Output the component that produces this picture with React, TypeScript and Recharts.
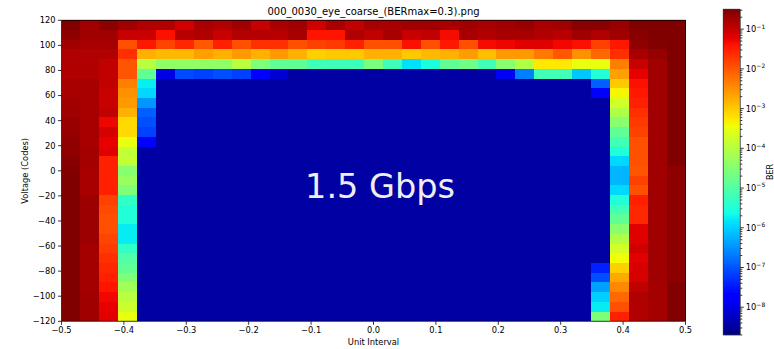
import { ScatterChart, Scatter, XAxis, YAxis, ReferenceArea } from 'recharts';

const FONT = '"DejaVu Sans", sans-serif';

// log10(BER) colour limits of the colour bar
const LOG_MIN = -8.7;
const LOG_MAX = -0.5;

const X_TICKS = [-0.5, -0.4, -0.3, -0.2, -0.1, 0, 0.1, 0.2, 0.3, 0.4, 0.5];
const Y_TICKS = [120, 100, 80, 60, 40, 20, 0, -20, -40, -60, -80, -100, -120];
const BER_MAJOR = [1e-8, 1e-7, 1e-6, 1e-5, 1e-4, 1e-3, 1e-2, 1e-1];

const N_COLS = 33;
const N_ROWS = 31;
const FLOOR = -8.45; // open-eye cells

// log10(BER) per column, top row (+120) first
const col00 = [-0.5, -0.6, -0.73, -0.84, -0.84, -0.84, -0.79, -0.79, -0.73, -0.73, -0.67, -0.67, -0.62, -0.62, -0.56, -0.52, -0.5, -0.5, -0.5, -0.5, -0.5, -0.5, -0.5, -0.5, -0.5, -0.5, -0.5, -0.5, -0.5, -0.5, -0.5];
const col01 = [-0.73, -0.73, -0.79, -0.84, -0.84, -0.84, -0.79, -0.79, -0.79, -0.79, -0.79, -0.79, -0.79, -0.76, -0.76, -0.79, -0.79, -0.79, -0.7, -0.7, -0.7, -0.7, -0.7, -0.76, -0.76, -0.76, -0.76, -0.76, -0.73, -0.73, -0.73];
const col02 = [-0.58, -0.73, -0.79, -0.84, -0.96, -0.96, -0.96, -1.01, -1.01, -0.96, -1.28, -1.12, -1.24, -1.18, -1.52, -1.52, -1.52, -1.52, -1.8, -1.86, -1.93, -1.93, -1.83, -1.76, -1.65, -1.58, -1.52, -1.41, -1.3, -1.24, -1.18];
const col03 = [-0.73, -1.01, -1.93, -1.65, -1.98, -1.98, -2.34, -2.49, -2.57, -2.77, -3.12, -3.12, -3.52, -3.9, -3.9, -4.47, -4.31, -4.56, -5.35, -5.51, -5.51, -5.78, -5.78, -5.35, -5.03, -4.87, -4.56, -4.24, -4.0, -3.82, -3.52];
const col04 = [-0.84, -1.01, -1.44, -2.77, -4.0, -4.87, -5.75, -5.94, -6.45, -6.9, -7.04, -7.16, -7.72, -8.45, -8.45, -8.45, -8.45, -8.45, -8.45, -8.45, -8.45, -8.45, -8.45, -8.45, -8.45, -8.45, -8.45, -8.45, -8.45, -8.45, -8.45];

const col28 = [-0.56, -0.84, -1.8, -2.14, -3.52, -5.51, -6.9, -7.72, -8.45, -8.45, -8.45, -8.45, -8.45, -8.45, -8.45, -8.45, -8.45, -8.45, -8.45, -8.45, -8.45, -8.45, -8.45, -8.45, -8.45, -7.42, -7.04, -6.39, -6.0, -5.78, -4.56];
const col29 = [-0.67, -0.73, -1.44, -1.65, -2.34, -2.63, -2.98, -3.37, -3.75, -4.08, -4.47, -4.87, -5.19, -5.51, -5.94, -6.2, -6.2, -5.94, -5.51, -5.19, -4.87, -4.47, -4.08, -3.75, -3.44, -3.04, -2.7, -2.42, -2.14, -1.93, -1.52];
const col30 = [-0.5, -0.56, -0.62, -0.79, -1.01, -1.24, -1.38, -1.44, -1.52, -1.65, -1.73, -1.8, -1.93, -1.93, -1.93, -1.98, -1.8, -1.93, -1.52, -1.58, -1.58, -1.18, -1.18, -1.07, -1.18, -1.12, -1.12, -0.96, -0.84, -0.84, -0.84];
const col31 = [-0.5, -0.5, -0.52, -0.66, -0.73, -0.73, -0.73, -0.73, -0.73, -0.73, -0.73, -0.73, -0.73, -0.73, -0.73, -0.73, -0.73, -0.73, -0.73, -0.73, -0.73, -0.73, -0.73, -0.73, -0.73, -0.73, -0.73, -0.76, -0.76, -0.76, -0.76];
const col32 = [-0.5, -0.5, -0.5, -0.5, -0.5, -0.5, -0.5, -0.5, -0.5, -0.5, -0.5, -0.5, -0.5, -0.5, -0.5, -0.6, -0.6, -0.6, -0.6, -0.6, -0.6, -0.6, -0.6, -0.6, -0.6, -0.6, -0.6, -0.52, -0.52, -0.52, -0.52];

// log10(BER) for the top six rows, columns 5..27
const row00 = [-0.84, -1.07, -0.79, -0.84, -0.73, -1.01, -0.79, -0.73, -1.07, -0.79, -0.96, -0.79, -0.79, -0.73, -0.73, -0.79, -0.73, -0.79, -0.73, -0.67, -0.79, -0.73, -0.56];
const row01 = [-1.38, -0.9, -0.84, -1.01, -0.87, -0.87, -0.9, -0.79, -1.41, -1.41, -0.84, -0.96, -0.79, -1.01, -0.96, -1.33, -0.79, -0.84, -0.79, -0.79, -0.84, -0.9, -0.73];
const row02 = [-1.83, -1.58, -2.0, -1.52, -1.93, -1.65, -1.65, -1.93, -1.8, -1.73, -1.52, -1.93, -1.93, -1.38, -1.93, -1.44, -1.93, -1.33, -1.28, -1.18, -1.18, -1.3, -1.38];
const row03 = [-2.84, -2.84, -2.63, -2.77, -2.57, -2.77, -2.57, -2.77, -3.04, -2.98, -2.98, -2.77, -2.77, -2.98, -2.84, -2.77, -2.6, -2.9, -2.57, -2.57, -2.28, -2.0, -2.49];
const row04 = [-4.39, -4.39, -4.39, -4.39, -4.0, -4.56, -4.87, -4.87, -5.19, -5.22, -5.22, -4.63, -5.22, -5.87, -5.55, -4.87, -4.71, -5.19, -4.47, -4.08, -3.26, -3.26, -3.52];
const row05 = [-7.98, -7.08, -7.16, -7.04, -7.16, -7.72, -8.1, -8.45, -8.45, -8.45, -8.45, -8.45, -8.45, -8.45, -8.45, -8.45, -8.45, -8.45, -7.89, -6.65, -5.19, -5.19, -6.07];

const leftCols = [col00, col01, col02, col03, col04];
const rightCols = [col28, col29, col30, col31, col32];
const topRows = [row00, row01, row02, row03, row04, row05];

function berAt(c: number, r: number) {
  if (c < 5) return leftCols[c][r];
  if (c >= 28) return rightCols[c - 28][r];
  if (r < 6) return topRows[r][c - 5];
  return FLOOR;
}

function lerp(pts: number[][], t: number) {
  for (let i = 1; i < pts.length; i++) {
    if (t <= pts[i][0]) {
      const [x0, y0] = pts[i - 1];
      const [x1, y1] = pts[i];
      return y0 + ((t - x0) / (x1 - x0)) * (y1 - y0);
    }
  }
  return pts[pts.length - 1][1];
}

// matplotlib "jet"
function jet(t: number) {
  t = Math.max(0, Math.min(1, t));
  const r = lerp([[0, 0], [0.35, 0], [0.66, 1], [0.89, 1], [1, 0.5]], t);
  const g = lerp([[0, 0], [0.125, 0], [0.375, 1], [0.64, 1], [0.91, 0], [1, 0]], t);
  const b = lerp([[0, 0.5], [0.11, 1], [0.34, 1], [0.65, 0], [1, 0]], t);
  return `rgb(${Math.round(r * 255)},${Math.round(g * 255)},${Math.round(b * 255)})`;
}

const berColor = (lg: number) => jet((lg - LOG_MIN) / (LOG_MAX - LOG_MIN));

const cells: { x: number; y: number; x1: number; x2: number; y1: number; y2: number; ber: number }[] = [];
for (let r = 0; r < N_ROWS; r++) {
  for (let c = 0; c < N_COLS; c++) {
    const x1 = -0.5 + c / N_COLS;
    const x2 = -0.5 + (c + 1) / N_COLS;
    const y1 = 120 - (r * 240) / N_ROWS;
    const y2 = 120 - ((r + 1) * 240) / N_ROWS;
    cells.push({ x: (x1 + x2) / 2, y: (y1 + y2) / 2, x1, x2, y1, y2, ber: berAt(c, r) });
  }
}

// colour bar: thin slices of the log range
const N_SLICES = 164;
const slices: { x: number; y: number; lo: number; hi: number; t: number }[] = [];
for (let i = 0; i < N_SLICES; i++) {
  const a = LOG_MIN + ((LOG_MAX - LOG_MIN) * i) / N_SLICES;
  const b = LOG_MIN + ((LOG_MAX - LOG_MIN) * (i + 1)) / N_SLICES;
  slices.push({ x: 0.5, y: Math.pow(10, (a + b) / 2), lo: Math.pow(10, a), hi: Math.pow(10, b), t: (i + 0.5) / N_SLICES });
}

const berTicks: number[] = [];
BER_MAJOR.concat([1e-9]).forEach((m) => {
  for (let k = 1; k < 10; k++) {
    const v = m * k;
    if (Math.log10(v) >= LOG_MIN && Math.log10(v) <= LOG_MAX) berTicks.push(v);
  }
});

const signed = (v: number, digits: number) =>
  (v < 0 ? '\u2212' : '') + Math.abs(v).toFixed(digits);

function BarTick({ x, y, payload }: any) {
  const lg = Math.log10(payload.value);
  const major = Math.abs(lg - Math.round(lg)) < 1e-6;
  return (
    <g>
      <line x1={x} x2={x + (major ? 3.5 : 2)} y1={y} y2={y} stroke="#000" strokeWidth={0.8} />
      {major && (
        <text x={x + 5.5} y={y + 3} fontSize={8.3} fontFamily={FONT} fill="#000">
          10
          <tspan dy={-3.6} fontSize={6}>
            {'\u2212' + Math.abs(Math.round(lg))}
          </tspan>
        </text>
      )}
    </g>
  );
}

export default function App() {
  return (
    <div style={{ position: 'absolute', left: 0, top: 0, width: 774, height: 349, background: '#fff' }}>
      <ScatterChart width={774} height={349} margin={{ top: 20.3, right: 88.5, bottom: 0, left: 0 }}>
        <XAxis
          type="number"
          dataKey="x"
          domain={[-0.5, 0.5]}
          ticks={X_TICKS}
          interval={0}
          height={27.7}
          axisLine={false}
          tickLine={{ stroke: '#000', strokeWidth: 0.8 }}
          tickSize={3.5}
          tickMargin={2.5}
          tick={{ fill: '#000', fontSize: 8.3, fontFamily: FONT }}
          tickFormatter={(v: number) => signed(v, 1)}
          allowDataOverflow
        />
        <YAxis
          type="number"
          dataKey="y"
          domain={[-120, 120]}
          ticks={Y_TICKS}
          interval={0}
          width={61.5}
          axisLine={false}
          tickLine={{ stroke: '#000', strokeWidth: 0.8 }}
          tickSize={3.5}
          tickMargin={2.5}
          tick={{ fill: '#000', fontSize: 8.3, fontFamily: FONT }}
          tickFormatter={(v: number) => signed(v, 0)}
          allowDataOverflow
        />
        {cells.map((cell, i) => (
          <ReferenceArea
            key={i}
            x1={cell.x1}
            x2={cell.x2}
            y1={cell.y1}
            y2={cell.y2}
            fill={berColor(cell.ber)}
            fillOpacity={1}
            stroke="none"
            shapeRendering="crispEdges"
            ifOverflow="visible"
          />
        ))}
        <Scatter data={cells} shape={() => <g />} isAnimationActive={false} />
        <ReferenceArea x1={-0.5} x2={0.5} y1={-120} y2={120} fill="none" fillOpacity={0} stroke="#000" strokeWidth={0.8} ifOverflow="visible" />
      </ScatterChart>

      <div style={{ position: 'absolute', left: 690, top: 0 }}>
        <ScatterChart width={84} height={349} margin={{ top: 9.3, right: 0, bottom: 14, left: 33.3 }}>
          <XAxis type="number" dataKey="x" domain={[0, 1]} hide />
          <YAxis
            type="number"
            dataKey="y"
            orientation="right"
            scale="log"
            domain={[Math.pow(10, LOG_MIN), Math.pow(10, LOG_MAX)]}
            ticks={berTicks}
            interval={0}
            width={33.7}
            axisLine={false}
            tickLine={false}
            tickSize={0}
            tickMargin={0}
            tick={<BarTick />}
            allowDataOverflow
          />
          {slices.map((s, i) => (
            <ReferenceArea
              key={i}
              x1={0}
              x2={1}
              y1={s.lo}
              y2={s.hi}
              fill={jet(s.t)}
              fillOpacity={1}
              stroke="none"
              shapeRendering="crispEdges"
              ifOverflow="visible"
            />
          ))}
          <Scatter data={slices} shape={() => <g />} isAnimationActive={false} />
          <ReferenceArea
            x1={0}
            x2={1}
            y1={Math.pow(10, LOG_MIN)}
            y2={Math.pow(10, LOG_MAX)}
            fill="none"
            fillOpacity={0}
            stroke="#333"
            strokeWidth={0.8}
            ifOverflow="visible"
          />
        </ScatterChart>
      </div>

      <svg
        width={774}
        height={349}
        style={{ position: 'absolute', left: 0, top: 0, pointerEvents: 'none' }}
        fontFamily={FONT}
      >
        <text x={373.5} y={15} textAnchor="middle" fontSize={10} fill="#000">
          000_0030_eye_coarse_(BERmax=0.3).png
        </text>
        <text x={373.5} y={344.5} textAnchor="middle" fontSize={8.3} fill="#000">
          Unit Interval
        </text>
        <text x={28} y={170.8} textAnchor="middle" fontSize={8.3} fill="#000" transform="rotate(-90 28 170.8)">
          Voltage (Codes)
        </text>
        <text x={380} y={198} textAnchor="middle" fontSize={33.5} fill="#eeeeee">
          1.5 Gbps
        </text>
        <text x={773} y={172} textAnchor="middle" fontSize={8} fill="#000" transform="rotate(-90 773 172)">
          BER
        </text>
      </svg>
    </div>
  );
}
